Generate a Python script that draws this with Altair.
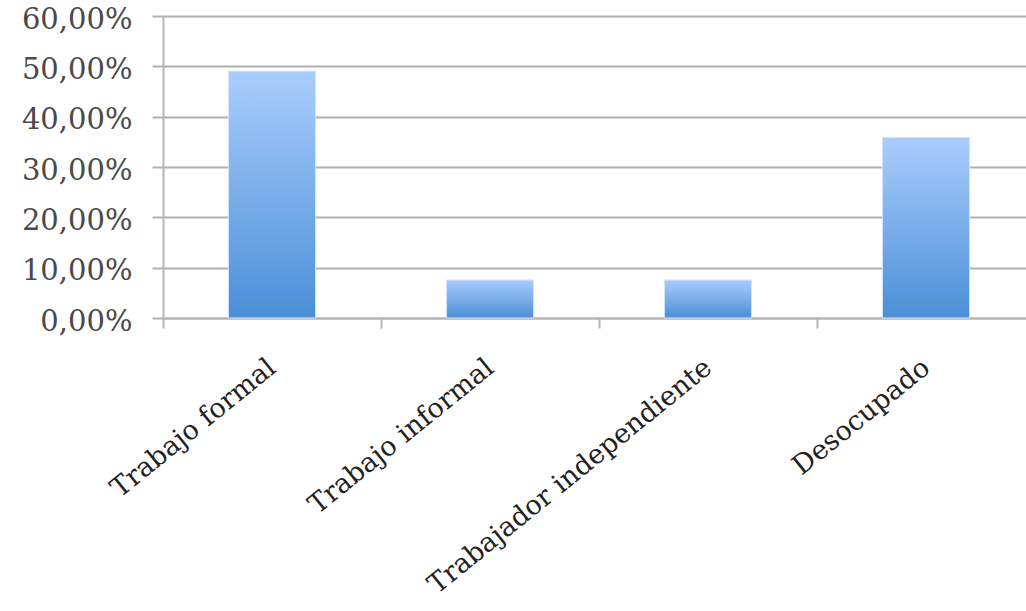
import altair as alt
import pandas as pd

categories = ["Trabajo formal", "Trabajo informal", "Trabajador independiente", "Desocupado"]
values = [0.4906, 0.0755, 0.0755, 0.3585]
y_ticks = [0, 0.1, 0.2, 0.3, 0.4, 0.5, 0.6]

df = pd.DataFrame({"cat": categories, "val": values})

grad = alt.Gradient(
    gradient="linear",
    stops=[alt.GradientStop(color="#AACDFC", offset=0),
           alt.GradientStop(color="#4A8FD8", offset=1)],
    x1=0, x2=0, y1=0, y2=1,
)

chart = alt.Chart(df).mark_bar(fill=grad, stroke="#d6e6fb", strokeWidth=1).encode(
    x=alt.X("cat:N", sort=categories, title=None,
            scale=alt.Scale(range=[0, 872], paddingInner=0.6, paddingOuter=0.3),
            axis=alt.Axis(labelAngle=-39, labelAlign="right", labelBaseline="middle",
                          labelPadding=36, labelOffset=109, labelLimit=0,
                          labelFont="DejaVu Serif", labelFontSize=27,
                          labelColor="#222222", domainColor="#b5b5b5", domainWidth=2,
                          tickColor="#b5b5b5", tickWidth=2, tickSize=10, tickOffset=-109,
                          grid=False)),
    y=alt.Y("val:Q", title=None,
            scale=alt.Scale(domain=[0, 0.6], nice=False),
            axis=alt.Axis(values=y_ticks,
                          labelExpr="replace(format(datum.value, '.2%'), '.', ',')",
                          labelFont="DejaVu Serif", labelFontSize=29, labelColor="#4a4a4a",
                          labelPadding=20, labelOffset=3,
                          domainColor="#b5b5b5", domainWidth=2,
                          tickColor="#b0b0b0", tickWidth=2, tickSize=11,
                          grid=True, gridColor="#b0b0b0", gridWidth=2)),
).properties(
    width=863, height=302,
    autosize=alt.AutoSizeParams(type="none"),
    padding={"left": 163, "top": 16, "right": 0, "bottom": 293},
).configure_view(stroke=None).configure(background="white")

chart.save("out.html", embed_options={"renderer": "svg", "actions": False})
